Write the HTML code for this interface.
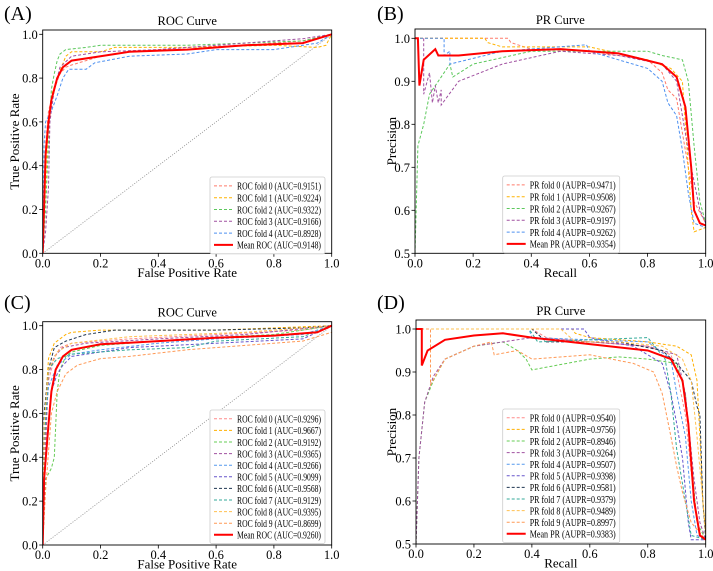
<!DOCTYPE html>
<html><head><meta charset="utf-8"><style>
body{margin:0;background:#fff}
svg{display:block;font-family:"Liberation Serif",serif}
</style></head><body>
<svg id="fig" width="713" height="571" viewBox="0 0 713 571" xmlns="http://www.w3.org/2000/svg"></svg>
<script>
// ---------- data ----------
const foldColorsA = ["#ff7b6b","#ffb300","#5cc85c","#a050a0","#4d90f0"];
const foldColorsC = ["#ff8a8a","#ffb000","#66cc55","#a050a0","#5599ee","#6655cc","#1f3550","#33aa99","#ffc050","#ff9955"];
const rocLabelsA = ["ROC fold 0 (AUC=0.9151)","ROC fold 1 (AUC=0.9224)","ROC fold 2 (AUC=0.9322)","ROC fold 3 (AUC=0.9166)","ROC fold 4 (AUC=0.8928)","Mean ROC (AUC=0.9148)"];
const prLabelsB = ["PR fold 0 (AUPR=0.9471)","PR fold 1 (AUPR=0.9508)","PR fold 2 (AUPR=0.9267)","PR fold 3 (AUPR=0.9197)","PR fold 4 (AUPR=0.9262)","Mean PR (AUPR=0.9354)"];
const rocLabelsC = ["ROC fold 0 (AUC=0.9296)","ROC fold 1 (AUC=0.9667)","ROC fold 2 (AUC=0.9192)","ROC fold 3 (AUC=0.9365)","ROC fold 4 (AUC=0.9266)","ROC fold 5 (AUC=0.9099)","ROC fold 6 (AUC=0.9568)","ROC fold 7 (AUC=0.9129)","ROC fold 8 (AUC=0.9395)","ROC fold 9 (AUC=0.8699)","Mean ROC (AUC=0.9260)"];
const prLabelsD = ["PR fold 0 (AUPR=0.9540)","PR fold 1 (AUPR=0.9756)","PR fold 2 (AUPR=0.8946)","PR fold 3 (AUPR=0.9264)","PR fold 4 (AUPR=0.9507)","PR fold 5 (AUPR=0.9398)","PR fold 6 (AUPR=0.9581)","PR fold 7 (AUPR=0.9379)","PR fold 8 (AUPR=0.9489)","PR fold 9 (AUPR=0.8997)","Mean PR (AUPR=0.9383)"];
const rocTicks = [0,0.2,0.4,0.6,0.8,1.0];
const prYTicks = [0.5,0.6,0.7,0.8,0.9,1.0];

const rocA = [
 [[0,0],[0.005,0.3],[0.01,0.5],[0.02,0.65],[0.04,0.75],[0.06,0.82],[0.08,0.85],[0.1,0.86],[0.15,0.88],[0.2,0.9],[0.3,0.92],[0.5,0.94],[0.7,0.95],[0.9,0.97],[1,1]],
 [[0,0],[0.01,0.3],[0.02,0.6],[0.03,0.72],[0.05,0.8],[0.08,0.9],[0.1,0.92],[0.2,0.92],[0.25,0.94],[0.5,0.94],[0.8,0.95],[0.95,0.94],[0.98,0.95],[1,1]],
 [[0,0],[0.01,0.2],[0.02,0.5],[0.03,0.75],[0.04,0.82],[0.05,0.88],[0.06,0.91],[0.08,0.93],[0.15,0.94],[0.2,0.95],[0.5,0.95],[0.7,0.96],[0.9,0.97],[1,1]],
 [[0,0],[0.01,0.1],[0.02,0.3],[0.025,0.6],[0.04,0.75],[0.06,0.85],[0.1,0.9],[0.2,0.92],[0.4,0.93],[0.6,0.95],[0.8,0.97],[0.9,0.98],[1,1]],
 [[0,0],[0.005,0.5],[0.01,0.6],[0.03,0.65],[0.05,0.72],[0.07,0.8],[0.09,0.84],[0.15,0.84],[0.18,0.87],[0.22,0.88],[0.3,0.9],[0.5,0.91],[0.6,0.93],[0.8,0.93],[0.95,0.96],[1,1]]
];
const rocMeanA = [[0,0],[0.01,0.45],[0.02,0.6],[0.03,0.7],[0.05,0.8],[0.07,0.85],[0.1,0.88],[0.2,0.9],[0.3,0.92],[0.5,0.93],[0.7,0.95],[0.9,0.96],[1,1]];

const prB = [
 [[0,1],[0.32,1],[0.33,0.99],[0.4,0.975],[0.6,0.97],[0.8,0.95],[0.85,0.92],[0.87,0.88],[0.9,0.86],[0.92,0.78],[0.94,0.7],[0.96,0.62],[1,0.57]],
 [[0,1],[0.24,1],[0.25,0.99],[0.3,0.98],[0.6,0.98],[0.8,0.95],[0.88,0.93],[0.92,0.9],[0.93,0.8],[0.95,0.6],[0.96,0.55],[1,0.56]],
 [[0,0.5],[0.01,0.75],[0.03,0.8],[0.05,0.87],[0.1,0.92],[0.12,0.94],[0.13,0.91],[0.2,0.94],[0.4,0.97],[0.6,0.97],[0.8,0.97],[0.85,0.96],[0.92,0.95],[0.94,0.9],[0.96,0.75],[0.98,0.62],[1,0.57]],
 [[0.03,1],[0.03,0.87],[0.05,0.92],[0.06,0.85],[0.07,0.89],[0.08,0.85],[0.09,0.88],[0.09,0.845],[0.15,0.9],[0.3,0.94],[0.5,0.97],[0.7,0.96],[0.85,0.94],[0.9,0.9],[0.92,0.82],[0.95,0.7],[0.98,0.6],[1,0.57]],
 [[0,1],[0.1,1],[0.1,0.96],[0.12,0.97],[0.12,0.94],[0.3,0.97],[0.59,0.985],[0.6,0.97],[0.7,0.95],[0.8,0.93],[0.85,0.9],[0.87,0.85],[0.9,0.82],[0.92,0.74],[0.94,0.64],[0.96,0.57],[1,0.56]]
];
const prMeanB = [[0,1],[0.01,1],[0.015,0.89],[0.03,0.95],[0.07,0.975],[0.08,0.96],[0.15,0.96],[0.3,0.97],[0.5,0.975],[0.7,0.965],[0.85,0.94],[0.9,0.91],[0.93,0.84],[0.95,0.7],[0.96,0.6],[0.98,0.57],[1,0.565]];

const rocC = [
 [[0,0],[0.005,0.4],[0.02,0.75],[0.04,0.85],[0.06,0.9],[0.1,0.92],[0.3,0.94],[0.6,0.96],[0.9,0.98],[1,1]],
 [[0,0],[0.005,0.55],[0.02,0.85],[0.04,0.92],[0.08,0.96],[0.1,0.97],[0.2,0.98],[0.6,0.98],[1,1]],
 [[0,0],[0.01,0.3],[0.03,0.35],[0.04,0.4],[0.05,0.7],[0.06,0.8],[0.08,0.86],[0.1,0.88],[0.2,0.91],[0.5,0.94],[0.8,0.96],[1,1]],
 [[0,0],[0.01,0.45],[0.02,0.78],[0.04,0.86],[0.07,0.9],[0.15,0.92],[0.4,0.94],[0.7,0.96],[1,1]],
 [[0,0],[0.005,0.5],[0.02,0.72],[0.05,0.82],[0.1,0.87],[0.2,0.89],[0.4,0.92],[0.6,0.94],[0.9,0.96],[1,1]],
 [[0,0],[0.01,0.4],[0.03,0.7],[0.05,0.78],[0.07,0.82],[0.1,0.86],[0.2,0.88],[0.3,0.9],[0.6,0.92],[0.9,0.94],[1,1]],
 [[0,0],[0.005,0.6],[0.02,0.8],[0.04,0.9],[0.08,0.93],[0.15,0.96],[0.25,0.98],[0.6,0.98],[0.9,0.99],[1,1]],
 [[0,0],[0.005,0.45],[0.02,0.8],[0.05,0.85],[0.1,0.87],[0.2,0.88],[0.3,0.89],[0.5,0.9],[0.6,0.93],[0.9,0.95],[1,1]],
 [[0,0],[0.005,0.55],[0.02,0.8],[0.05,0.88],[0.1,0.92],[0.3,0.95],[0.7,0.97],[1,1]],
 [[0,0],[0.01,0.25],[0.03,0.6],[0.05,0.7],[0.08,0.78],[0.12,0.82],[0.2,0.85],[0.3,0.86],[0.5,0.89],[0.7,0.91],[0.9,0.93],[1,0.97]]
];
const rocMeanC = [[0,0],[0.005,0.3],[0.02,0.55],[0.03,0.7],[0.045,0.8],[0.07,0.86],[0.1,0.89],[0.2,0.915],[0.4,0.93],[0.6,0.945],[0.8,0.955],[0.95,0.97],[1,1]];

const prD = [
 [[0,1],[0.4,1],[0.45,0.98],[0.6,0.97],[0.8,0.96],[0.88,0.94],[0.9,0.9],[0.93,0.8],[0.96,0.6],[0.98,0.52],[1,0.51]],
 [[0,1],[0.54,1],[0.55,0.99],[0.6,0.98],[0.8,0.97],[0.9,0.96],[0.95,0.94],[0.97,0.88],[0.98,0.75],[0.99,0.6],[1,0.53]],
 [[0,0.5],[0.01,0.7],[0.03,0.83],[0.06,0.88],[0.1,0.93],[0.2,0.96],[0.3,0.97],[0.35,0.95],[0.38,0.93],[0.4,0.905],[0.6,0.93],[0.7,0.935],[0.8,0.93],[0.9,0.92],[0.93,0.85],[0.95,0.7],[0.97,0.55],[1,0.51]],
 [[0,0.5],[0.01,0.7],[0.03,0.83],[0.06,0.89],[0.1,0.93],[0.2,0.96],[0.4,0.98],[0.6,0.97],[0.8,0.96],[0.9,0.94],[0.93,0.85],[0.96,0.65],[0.98,0.55],[1,0.51]],
 [[0,1],[0.39,1],[0.4,0.98],[0.6,0.975],[0.8,0.97],[0.88,0.93],[0.9,0.85],[0.93,0.75],[0.95,0.6],[0.97,0.52],[1,0.51]],
 [[0,1],[0.58,1],[0.6,0.98],[0.75,0.96],[0.85,0.92],[0.88,0.85],[0.9,0.78],[0.92,0.7],[0.94,0.55],[0.95,0.51],[1,0.51]],
 [[0,1],[0.4,1],[0.45,0.97],[0.7,0.97],[0.85,0.95],[0.9,0.92],[0.95,0.88],[0.97,0.82],[0.98,0.8],[0.99,0.6],[1,0.51]],
 [[0,1],[0.39,1],[0.42,0.97],[0.6,0.975],[0.8,0.98],[0.86,0.93],[0.88,0.85],[0.9,0.72],[0.93,0.6],[0.95,0.52],[1,0.51]],
 [[0,1],[0.5,1],[0.55,0.97],[0.7,0.97],[0.85,0.96],[0.92,0.93],[0.95,0.88],[0.97,0.75],[0.99,0.6],[1,0.52]],
 [[0,1],[0.05,1],[0.05,0.87],[0.1,0.93],[0.2,0.96],[0.26,0.97],[0.27,0.94],[0.35,0.95],[0.4,0.93],[0.6,0.94],[0.75,0.92],[0.82,0.9],[0.85,0.85],[0.88,0.75],[0.9,0.68],[0.92,0.62],[0.95,0.55],[1,0.51]]
];
const prMeanD = [[0,1],[0.02,1],[0.02,0.915],[0.04,0.95],[0.1,0.975],[0.2,0.985],[0.3,0.99],[0.4,0.98],[0.6,0.965],[0.8,0.95],[0.88,0.93],[0.92,0.88],[0.94,0.78],[0.96,0.6],[0.98,0.52],[1,0.51]];

// ---------- drawing ----------
const NS="http://www.w3.org/2000/svg";
const svg=document.getElementById("fig");
function mk(tag,attrs,parent){const e=document.createElementNS(NS,tag);for(const k in attrs)e.setAttribute(k,attrs[k]);(parent||svg).appendChild(e);return e;}

function panel(p){
  const g=mk("g",{});
  
  
  const sx=v=>p.x0+(v)*(p.x1-p.x0);
  const sy=v=>p.yb-(v-p.ymin)/(p.ymaxv-p.ymin)*(p.yb-p.yv);
  const lt=mk("text",{x:p.letterX,y:p.letterY,"font-size":20,fill:"#000"},g);lt.textContent=p.letter;
  
  
  const tt=mk("text",{x:(p.x0+p.x1)/2,y:p.top-5,"font-size":12.5,"text-anchor":"middle"},g);tt.textContent=p.title;
  
  
  if(p.diag){const d=mk("line",{x1:sx(0),y1:sy(0),x2:sx(1),y2:sy(1),stroke:"#888","stroke-width":0.8,"stroke-dasharray":"1,1.5"},g);
    
    }
  const cid="c"+p.letter.replace(/\W/g,"");
  const cp=mk("clipPath",{id:cid},g);mk("rect",{x:p.x0,y:p.top,width:p.x1-p.x0,height:p.yb-p.top},cp);
  const cg=mk("g",{"clip-path":"url(#"+cid+")"},g);
  p.folds.forEach((f,i)=>{
    const pl=mk("polyline",{points:f.map(q=>sx(q[0]).toFixed(1)+","+sy(q[1]).toFixed(1)).join(" "),fill:"none",stroke:p.colors[i],"stroke-width":1,"stroke-dasharray":"3,2"},cg);
    
    
  });
  const ml=mk("polyline",{points:p.mean.map(q=>sx(q[0]).toFixed(1)+","+sy(q[1]).toFixed(1)).join(" "),fill:"none",stroke:"#ff0000","stroke-width":2},cg);
  
  
  const fr=mk("rect",{x:p.x0,y:p.top,width:p.x1-p.x0,height:p.yb-p.top,fill:"none",stroke:"#000","stroke-width":0.9},g);
  
  
  rocTicks.forEach(v=>{
    mk("line",{x1:sx(v),x2:sx(v),y1:p.yb,y2:p.yb+3.5,stroke:"#000","stroke-width":0.8},g);
    const t=mk("text",{x:sx(v),y:p.yb+14,"font-size":12.5,"text-anchor":"middle"},g);t.textContent=v.toFixed(1);
    
    
  });
  p.yticks.forEach(v=>{
    mk("line",{x1:p.x0-3.5,x2:p.x0,y1:sy(v),y2:sy(v),stroke:"#000","stroke-width":0.8},g);
    const t=mk("text",{x:p.x0-5,y:sy(v)+4.5,"font-size":12.5,"text-anchor":"end"},g);t.textContent=v.toFixed(1);
    
    
  });
  const xl=mk("text",{x:(p.x0+p.x1)/2,y:p.yb+23.5,"font-size":13,"text-anchor":"middle"},g);xl.textContent=p.xlabel;
  
  
  const yx=p.ylabX, yy=(p.top+p.yb)/2;
  const yl=mk("text",{x:yx,y:yy,"font-size":13,"text-anchor":"middle",transform:"rotate(-90 "+yx+" "+yy+")"},g);yl.textContent=p.ylabel;
  
  
  const lg=mk("g",{},g);
  
  
  const n=p.labels.length;
  mk("rect",{x:p.lx,y:p.ly,width:p.lw,height:n*p.lrow+6,fill:"#fff",stroke:"#ccc","stroke-width":0.8,rx:2},lg);
  p.labels.forEach((lab,i)=>{
    const cy=p.ly+3+p.lrow*(i+0.5);
    const isMean=i===n-1;
    mk("line",{x1:p.lx+4,x2:p.lx+23,y1:cy,y2:cy,stroke:isMean?"#ff0000":p.colors[i],"stroke-width":isMean?2:1,"stroke-dasharray":isMean?"none":"3,2"},lg);
    const t=mk("text",{x:p.lx+27,y:cy+3.8,"font-size":11,textLength:p.lw-31,lengthAdjust:"spacingAndGlyphs"},lg);t.textContent=lab;
    
    
  });
}

panel({name:"panel-a-roc",letter:"(A)",letterX:4,letterY:20,title:"ROC Curve",x0:42.7,x1:331.7,top:30,yb:253.3,yv:34.3,ymin:0,ymaxv:1,yticks:rocTicks,diag:true,folds:rocA,mean:rocMeanA,colors:foldColorsA,labels:rocLabelsA,xlabel:"False Positive Rate",ylabel:"True Positive Rate",ylabX:19,lx:210,ly:177,lw:115,lrow:11.8});
panel({name:"panel-b-pr",letter:"(B)",letterX:377,letterY:20,title:"PR Curve",x0:415,x1:705.7,top:29,yb:253.3,yv:38.3,ymin:0.5,ymaxv:1,yticks:prYTicks,diag:false,folds:prB,mean:prMeanB,colors:foldColorsA,labels:prLabelsB,xlabel:"Recall",ylabel:"Precision",ylabX:396,lx:502.7,ly:176,lw:117,lrow:11.8});
panel({name:"panel-c-roc",letter:"(C)",letterX:4,letterY:309,title:"ROC Curve",x0:42.7,x1:331.7,top:321.7,yb:545,yv:325.7,ymin:0,ymaxv:1,yticks:rocTicks,diag:true,folds:rocC,mean:rocMeanC,colors:foldColorsC,labels:rocLabelsC,xlabel:"False Positive Rate",ylabel:"True Positive Rate",ylabX:19,lx:210,ly:410,lw:115,lrow:11.6});
panel({name:"panel-d-pr",letter:"(D)",letterX:377,letterY:309,title:"PR Curve",x0:416,x1:705.7,top:320,yb:544,yv:329,ymin:0.5,ymaxv:1,yticks:prYTicks,diag:false,folds:prD,mean:prMeanD,colors:foldColorsC,labels:prLabelsD,xlabel:"Recall",ylabel:"Precision",ylabX:396,lx:502.7,ly:409,lw:117,lrow:11.6});
</script>
</body></html>
